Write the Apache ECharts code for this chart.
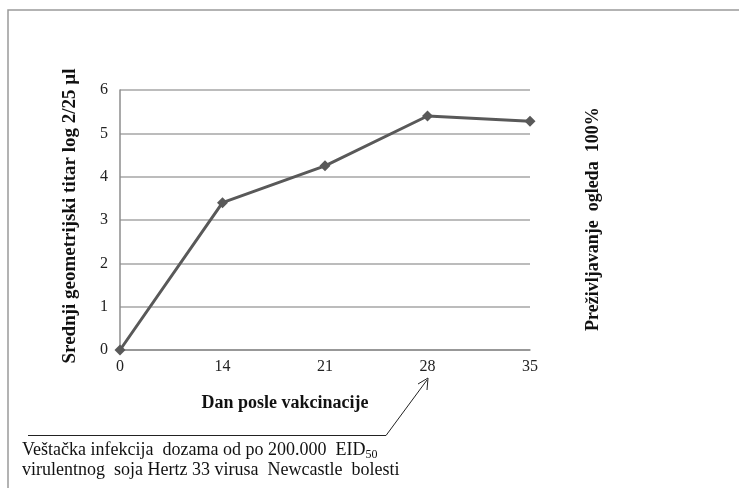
<!DOCTYPE html>
<html><head><meta charset="utf-8">
<script src="https://cdn.jsdelivr.net/npm/echarts@6/dist/echarts.min.js"></script>
<style>html,body{margin:0;padding:0;background:#fff}#c{width:739px;height:495px}</style>
</head><body><div id="c"></div>
<script>
var categories = ['0', '14', '21', '28', '35'];
var titerValues = [0, 3.4, 4.25, 5.4, 5.28];
var yTicks = [0, 1, 2, 3, 4, 5, 6];

var chart = echarts.init(document.getElementById('c'));
var serif = '"Liberation Serif", "DejaVu Serif", serif';
chart.setOption({
  backgroundColor: '#fff',
  animation: false,
  grid: { left: 120, right: 209, top: 90, bottom: 145 },
  xAxis: {
    type: 'category', data: categories, boundaryGap: false,
    axisLine: { lineStyle: { color: '#8c8c8c', width: 1.5 } },
    axisTick: { show: false },
    axisLabel: { color: '#222', fontFamily: serif, fontSize: 16, margin: 9 },
    name: 'Dan posle vakcinacije', nameLocation: 'middle', nameGap: 44,
    nameTextStyle: { color: '#111', fontFamily: serif, fontSize: 18, fontWeight: 'bold', padding: [0, 80, 0, 0] }
  },
  yAxis: {
    type: 'value', min: yTicks[0], max: yTicks[yTicks.length - 1], interval: 1,
    axisLine: { show: true, lineStyle: { color: '#8c8c8c', width: 1.5 } },
    axisTick: { show: false },
    splitLine: { lineStyle: { color: '#a6a6a6', width: 1.5 } },
    axisLabel: { color: '#222', fontFamily: serif, fontSize: 16, margin: 12 },
    name: 'Srednji geometrijski titar log 2/25 µl', nameLocation: 'middle', nameGap: 40,
    nameTextStyle: { color: '#111', fontFamily: serif, fontSize: 19, fontWeight: 'bold', padding: [0, 0, 0, 8] }
  },
  series: [{
    type: 'line', data: titerValues,
    symbol: 'diamond', symbolSize: 11,
    lineStyle: { color: '#595959', width: 3 },
    itemStyle: { color: '#595959' }
  }],
  graphic: [
    { type: 'polyline', shape: { points: [[8, 488], [8, 10], [739, 10]] }, style: { stroke: '#9a9a9a', lineWidth: 1.5, fill: null } },
    { type: 'text', rotation: Math.PI / 2, x: 584, y: 331, style: { text: 'Preživljavanje  ogleda  100%', font: 'bold 18px ' + serif, fill: '#111', textVerticalAlign: 'top' } },
    { type: 'polyline', shape: { points: [[28, 435.5], [386, 435.5], [427, 380]] }, style: { stroke: '#222', lineWidth: 1, fill: null } },
    { type: 'polyline', shape: { points: [[418, 384], [428, 378], [427, 390]] }, style: { stroke: '#222', lineWidth: 1, fill: null } },
    { type: 'text', x: 22, y: 440, style: {
        text: 'Veštačka infekcija  dozama od po 200.000  EID{sub|50}\nvirulentnog  soja Hertz 33 virusa  Newcastle  bolesti',
        font: '18px ' + serif, fill: '#111', lineHeight: 20,
        rich: { sub: { font: '12px ' + serif, fill: '#111', padding: [9, 0, 0, 0] } }
    } }
  ]
});
</script></body></html>
